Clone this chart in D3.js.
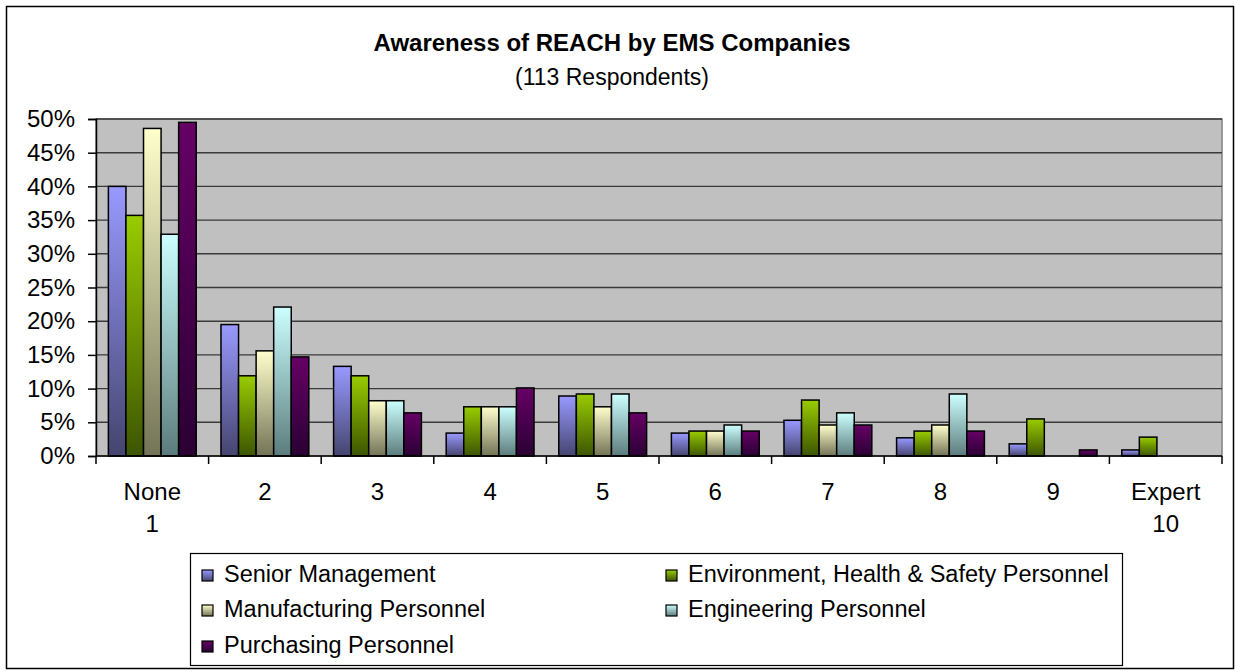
<!DOCTYPE html>
<html>
<head>
<meta charset="utf-8">
<script src="https://cdn.jsdelivr.net/npm/d3@7"></script>
<style>
  body { margin: 0; background: #fff; }
  text { font-family: "Liberation Sans", Arial, sans-serif; fill: #000; }
</style>
</head>
<body>
<div id="chart"></div>
<script>
// categories on the x axis (two-line labels)
const categories = ["None\n1", "2", "3", "4", "5", "6", "7", "8", "9", "Expert\n10"]
const seriesNames = ["Senior Management", "Environment, Health & Safety Personnel",
  "Manufacturing Personnel", "Engineering Personnel", "Purchasing Personnel"]

// values in %
const seniorMgmt    = [40.0, 19.5, 13.3, 3.4, 8.9, 3.4, 5.3, 2.7, 1.8, 0.9]
const ehsPersonnel  = [35.7, 11.9, 11.9, 7.3, 9.2, 3.7, 8.3, 3.7, 5.5, 2.8]
const mfgPersonnel  = [48.6, 15.6, 8.2, 7.3, 7.3, 3.7, 4.6, 4.6, 0, 0]
const engPersonnel  = [32.9, 22.1, 8.2, 7.3, 9.2, 4.6, 6.4, 9.2, 0, 0]
const purPersonnel  = [49.5, 14.7, 6.4, 10.1, 6.4, 3.7, 4.6, 3.7, 0.9, 0]
const yTicks = [0, 5, 10, 15, 20, 25, 30, 35, 40, 45, 50]

const allSeries = [seniorMgmt, ehsPersonnel, mfgPersonnel, engPersonnel, purPersonnel]
// gradient stops: light at top, dark at bottom
const gradColors = [
  ["#9999ff", "#45456f"],
  ["#99cc00", "#3d5500"],
  ["#ffffcc", "#737357"],
  ["#ccffff", "#5c7c7c"],
  ["#660066", "#2a0033"]
]

const W = 1235, H = 671
const plot = {left: 96, top: 119, right: 1222, bottom: 456}

const svg = d3.select("#chart").append("svg")
  .attr("width", W)
  .attr("height", H)

const defs = svg.append("defs")
gradColors.forEach((c, i) => {
  const g = defs.append("linearGradient")
    .attr("id", "grad" + i)
    .attr("x1", 0).attr("y1", 0).attr("x2", 0).attr("y2", 1)
  g.append("stop").attr("offset", "0%").attr("stop-color", c[0])
  g.append("stop").attr("offset", "100%").attr("stop-color", c[1])
})

// outer chart border
svg.append("rect")
  .attr("x", 6.5).attr("y", 6.5)
  .attr("width", W - 8).attr("height", H - 9)
  .attr("fill", "#fff")
  .attr("stroke", "#000")
  .attr("stroke-width", 1.5)

// titles
svg.append("text")
  .attr("x", 612).attr("y", 51)
  .attr("text-anchor", "middle")
  .style("font-size", "24px")
  .style("font-weight", "bold")
  .text("Awareness of REACH by EMS Companies")
svg.append("text")
  .attr("x", 612).attr("y", 85)
  .attr("text-anchor", "middle")
  .style("font-size", "23px")
  .text("(113 Respondents)")

// scales
const x = d3.scaleBand()
  .domain(d3.range(categories.length))
  .range([plot.left, plot.right])
  .padding(0)

const bw = x.bandwidth()
const groupW = bw * 0.78
const xs = d3.scaleBand()
  .domain(d3.range(allSeries.length))
  .range([(bw - groupW) / 2, (bw + groupW) / 2])

const y = d3.scaleLinear()
  .domain([0, 50])
  .range([plot.bottom, plot.top])

// plot background
svg.append("rect")
  .attr("x", plot.left).attr("y", plot.top)
  .attr("width", plot.right - plot.left)
  .attr("height", plot.bottom - plot.top)
  .attr("fill", "#c0c0c0")
  .attr("stroke", "#808080")
  .attr("stroke-width", 1.5)

// gridlines
svg.append("g")
  .selectAll("line")
  .data(yTicks.filter(d => d > 0))
  .join("line")
  .attr("x1", plot.left).attr("x2", plot.right)
  .attr("y1", d => y(d)).attr("y2", d => y(d))
  .attr("stroke", "#3a3a3a")
  .attr("stroke-width", 1.4)

// bars
allSeries.forEach((vals, s) => {
  svg.append("g")
    .selectAll("rect")
    .data(vals)
    .join("rect")
    .filter(d => d > 0)
    .attr("x", (d, i) => x(i) + xs(s))
    .attr("y", d => y(d))
    .attr("width", xs.bandwidth())
    .attr("height", d => y(0) - y(d))
    .attr("fill", "url(#grad" + s + ")")
    .attr("stroke", "#000")
    .attr("stroke-width", 1.5)
})

// y axis
const yAxis = svg.append("g")
  .attr("transform", "translate(" + plot.left + ",0)")
  .call(d3.axisLeft(y).tickValues(yTicks).tickSize(8).tickPadding(13)
    .tickFormat(d => d + "%"))
yAxis.select(".domain").attr("stroke", "#000").attr("stroke-width", 1.5)
yAxis.selectAll(".tick line").attr("stroke", "#000").attr("stroke-width", 1.5)
yAxis.selectAll("text")
  .style("font-size", "24px")
  .style("font-family", "'Liberation Sans', Arial, sans-serif")

// x axis: ticks at category boundaries
const xAxis = svg.append("g")
svg.append("line")
  .attr("x1", plot.left).attr("x2", plot.right)
  .attr("y1", plot.bottom).attr("y2", plot.bottom)
  .attr("stroke", "#000")
  .attr("stroke-width", 1.5)
xAxis.selectAll("line")
  .data(d3.range(categories.length + 1))
  .join("line")
  .attr("x1", d => plot.left + d * bw).attr("x2", d => plot.left + d * bw)
  .attr("y1", plot.bottom).attr("y2", plot.bottom + 8)
  .attr("stroke", "#000")
  .attr("stroke-width", 1.5)

const labels = svg.append("g")
  .selectAll("text")
  .data(categories)
  .join("text")
  .attr("x", (d, i) => x(i) + bw / 2)
  .attr("y", 500)
  .attr("text-anchor", "middle")
  .style("font-size", "24px")
labels.each(function(d, i) {
  const t = d3.select(this)
  d.split("\n").forEach((line, k) => {
    t.append("tspan")
      .attr("x", x(i) + bw / 2)
      .attr("dy", k === 0 ? 0 : 32)
      .text(line)
  })
})

// legend
const legend = svg.append("g")
legend.append("rect")
  .attr("x", 190.5).attr("y", 553.5)
  .attr("width", 932).attr("height", 112)
  .attr("fill", "#fff")
  .attr("stroke", "#000")
  .attr("stroke-width", 1.2)

const legCols = [202, 666]
const legRows = [582, 617, 653]
seriesNames.forEach((name, i) => {
  const cx = legCols[i % 2], cy = legRows[Math.floor(i / 2)]
  legend.append("rect")
    .attr("x", cx).attr("y", cy - 12)
    .attr("width", 11).attr("height", 11)
    .attr("fill", "url(#grad" + i + ")")
    .attr("stroke", "#000")
    .attr("stroke-width", 1.2)
  legend.append("text")
    .attr("x", cx + 22).attr("y", cy)
    .style("font-size", "23.5px")
    .text(name)
})
</script>
</body>
</html>
